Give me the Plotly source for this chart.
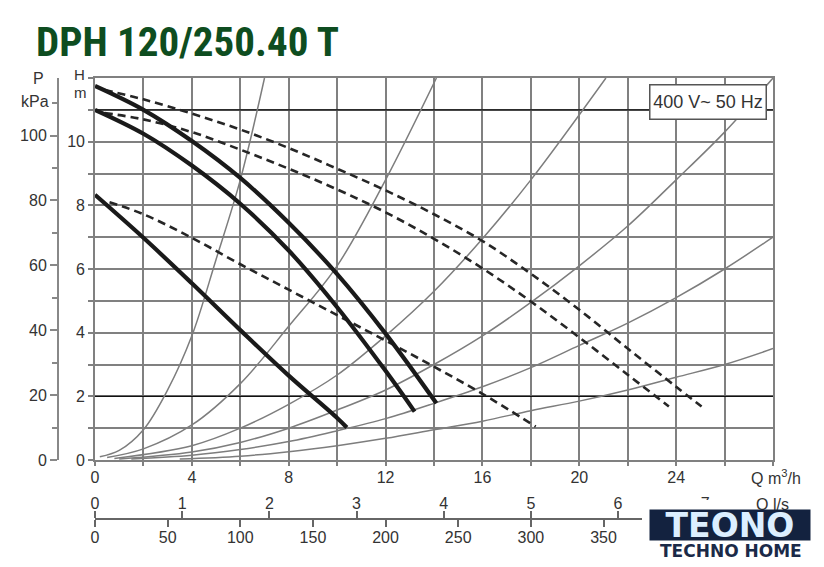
import plotly.graph_objects as go

# ---------------- data ----------------
# pump curves, solid (Q m3/h, H m)
s1_q = [0, 2, 4, 6, 8, 10, 12, 14.1]
s1_h = [11.75, 11.0, 10.02, 8.86, 7.45, 5.84, 3.97, 1.78]
s2_q = [0, 2, 4, 6, 8, 10, 12, 13.2]
s2_h = [11.0, 10.25, 9.25, 8.05, 6.58, 4.8, 2.8, 1.52]
s3_q = [0, 2, 4, 6, 8, 10, 10.4]
s3_h = [8.33, 6.98, 5.55, 4.08, 2.65, 1.32, 1.02]
# pump curves, dashed
d1_q = [0.4, 2, 4, 6, 8, 10, 12, 14, 16, 18, 20, 22, 24, 25.05]
d1_h = [11.62, 11.33, 10.88, 10.38, 9.8, 9.15, 8.47, 7.72, 6.88, 5.85, 4.72, 3.5, 2.3, 1.68]
d2_q = [0.4, 2, 4, 6, 8, 10, 12, 14, 16, 18, 20, 22, 23.7]
d2_h = [10.9, 10.7, 10.3, 9.75, 9.15, 8.5, 7.78, 6.95, 6.02, 4.98, 3.85, 2.68, 1.68]
d3_q = [0.6, 2, 4, 6, 8, 10, 12, 14, 16, 18.2]
d3_h = [8.1, 7.72, 6.98, 6.15, 5.35, 4.55, 3.75, 2.93, 2.08, 1.05]
# system curves (thin grey)
c1_q = [0.2, 1, 2, 3, 4, 5, 6, 7.0]
c1_h = [0.1, 0.3, 0.95, 2.2, 3.9, 6.3, 8.8, 12.0]
c2_q = [0.5, 2, 4, 6, 8, 10, 12, 14.1]
c2_h = [0.08, 0.35, 1.1, 2.4, 4.2, 6.1, 8.8, 12.0]
c3_q = [0.8, 4, 6, 8, 10, 12, 14, 16, 18, 21.1]
c3_h = [0.05, 0.45, 1.0, 1.75, 2.67, 3.9, 5.3, 6.95, 8.8, 12.0]
c4_q = [1, 4, 6, 8, 10, 12, 14, 16, 18, 20, 22, 24, 26, 28]
c4_h = [0.03, 0.25, 0.55, 1.0, 1.57, 2.2, 3.0, 3.9, 4.95, 6.1, 7.35, 8.8, 10.3, 12.0]
c5_q = [1.5, 4, 6, 8, 10, 12, 14, 16, 18, 20, 22, 24, 26, 28]
c5_h = [0.03, 0.15, 0.33, 0.58, 0.92, 1.3, 1.78, 2.3, 2.9, 3.6, 4.3, 5.1, 6.0, 7.0]
c6_q = [3.5, 6, 8, 10, 12, 14, 16, 18, 20, 22, 24, 26, 28]
c6_h = [0.03, 0.12, 0.26, 0.45, 0.68, 0.95, 1.22, 1.55, 1.85, 2.2, 2.6, 3.0, 3.5]

q_ticks = [0, 2, 4, 6, 8, 10, 12, 14, 16, 18, 20, 22, 24, 26, 28]
q_text = ["0", "", "4", "", "8", "", "12", "", "16", "", "20", "", "24", "", ""]
h_ticks = [0, 1, 2, 3, 4, 5, 6, 7, 8, 9, 10, 11, 12]
h_text = ["0", "", "2", "", "4", "", "6", "", "8", "", "10", "", ""]
ls_ticks = [0, 1, 2, 3, 4, 5, 6, 7]
lmin_ticks = [0, 50, 100, 150, 200, 250, 300, 350]

Q_MAX = 28
H_MAX = 12
KPA_PER_M = 9.81
LS_PER_M3H = 1 / 3.6
LMIN_PER_M3H = 1000 / 60

# ---------------- layout geometry ----------------
W, HT = 824, 567
ML, MR, MT, MB = 20, 51, 78, 27
PW = W - ML - MR
PH = HT - MT - MB


def px(x):
    return (x - ML) / PW


def py(y):
    return (HT - MB - y) / PH


GRID = "#808080"
TXT = "#333333"
FONT = "Liberation Sans, Arial, sans-serif"

fig = go.Figure()

for q, h in [(c1_q, c1_h), (c2_q, c2_h), (c3_q, c3_h), (c4_q, c4_h), (c5_q, c5_h), (c6_q, c6_h)]:
    fig.add_trace(go.Scatter(x=q, y=h, mode="lines", line=dict(color="#7d7d7d", width=1.5, shape="spline"),
                             showlegend=False, hoverinfo="skip"))
for q, h in [(d1_q, d1_h), (d2_q, d2_h), (d3_q, d3_h)]:
    fig.add_trace(go.Scatter(x=q, y=h, mode="lines",
                             line=dict(color="#262626", width=2.6, dash="8px,5px", shape="spline"),
                             showlegend=False, hoverinfo="skip"))
for q, h in [(s1_q, s1_h), (s2_q, s2_h), (s3_q, s3_h)]:
    fig.add_trace(go.Scatter(x=q, y=h, mode="lines", line=dict(color="#1a1a1a", width=4.2, shape="spline"),
                             showlegend=False, hoverinfo="skip"))

# invisible traces to activate secondary axes
fig.add_trace(go.Scatter(x=[0], y=[0], xaxis="x2", yaxis="y", mode="markers", marker=dict(opacity=0),
                         showlegend=False, hoverinfo="skip"))
fig.add_trace(go.Scatter(x=[0], y=[0], xaxis="x3", yaxis="y", mode="markers", marker=dict(opacity=0),
                         showlegend=False, hoverinfo="skip"))
fig.add_trace(go.Scatter(x=[0], y=[0], xaxis="x", yaxis="y2", mode="markers", marker=dict(opacity=0),
                         showlegend=False, hoverinfo="skip"))

xdom = [px(95), 1]
ydom = [py(460), 1]

fig.update_layout(
    width=W, height=HT, margin=dict(l=ML, r=MR, t=MT, b=MB, autoexpand=False),
    paper_bgcolor="white", plot_bgcolor="white",
    font=dict(family=FONT, size=16, color=TXT),
    xaxis=dict(domain=xdom, range=[0, Q_MAX], tickmode="array", tickvals=q_ticks, ticktext=q_text,
               ticks="outside", ticklen=4, tickcolor=GRID, tickwidth=1.6, ticklabelstandoff=-2,
               showgrid=True, gridcolor=GRID, gridwidth=1.6, zeroline=False,
               showline=True, linecolor=GRID, linewidth=1.6, mirror=True, anchor="y",
               tickfont=dict(size=16, color=TXT)),
    yaxis=dict(domain=ydom, range=[0, H_MAX], tickmode="array", tickvals=h_ticks, ticktext=h_text,
               ticks="outside", ticklen=5, tickcolor=GRID, tickwidth=1.6,
               showgrid=True, gridcolor=GRID, gridwidth=1.6, zeroline=False,
               showline=True, linecolor=GRID, linewidth=1.6, mirror=True, anchor="x",
               tickfont=dict(size=16, color=TXT)),
    yaxis2=dict(domain=ydom, overlaying="y", anchor="free", position=px(58), side="left",
                range=[0, H_MAX * KPA_PER_M], tick0=0, dtick=20, ticks="outside", ticklen=7,
                tickcolor="#888888", tickwidth=1.6,
                minor=dict(dtick=10, ticks="outside", ticklen=5, tickcolor="#888888", tickwidth=1.6),
                showline=True, linecolor="#888888", linewidth=2, showgrid=False, zeroline=False,
                tickfont=dict(size=16, color=TXT)),
    xaxis2=dict(domain=xdom, overlaying="x", anchor="free", position=py(519), side="top",
                range=[0, Q_MAX * LS_PER_M3H], tickmode="array", tickvals=ls_ticks,
                ticks="outside", ticklen=7, ticklabelstandoff=-4,
                tickcolor="#666666", tickwidth=1.6, showline=True, linecolor="#666666", linewidth=2,
                showgrid=False, zeroline=False, tickfont=dict(size=16, color=TXT)),
    xaxis3=dict(domain=xdom, overlaying="x", anchor="free", position=py(519), side="bottom",
                range=[0, Q_MAX * LMIN_PER_M3H], tickmode="array", tickvals=lmin_ticks,
                ticks="outside", ticklen=7, ticklabelstandoff=-3,
                tickcolor="#666666", tickwidth=1.6, showline=False,
                showgrid=False, zeroline=False, tickfont=dict(size=16, color=TXT)),
)

# darker reference lines
for hv in [11, 2]:
    fig.add_shape(type="line", xref="x", yref="y", x0=0, x1=Q_MAX, y0=hv, y1=hv,
                  line=dict(color="#111111", width=1.3), layer="between")

# white area behind logo (covers the end of the secondary scales)
fig.add_shape(type="rect", xref="paper", yref="paper", x0=px(642), x1=px(822), y0=py(500), y1=py(566),
              fillcolor="white", line=dict(width=0), layer="above")

ann = []


def add_text(text, x, y, size=16, color=TXT, xanchor="center", yanchor="middle", family=FONT, **kw):
    ann.append(dict(text=text, x=px(x), y=py(y), xref="paper", yref="paper", showarrow=False,
                    xanchor=xanchor, yanchor=yanchor, font=dict(size=size, color=color, family=family), **kw))


add_text("<b>DPH 120/250.40 T</b>", 34, 42, size=41, color="#0e4d20", xanchor="left",
         family="Noto Sans ExtraCondensed, Noto Sans Condensed, Roboto Condensed, Liberation Sans Narrow, sans-serif")
add_text("P", 38, 78)
add_text("kPa", 35, 101)
add_text("H", 79, 75, size=15)
add_text("m", 80, 93, size=15)
add_text("Q m<sup>3</sup>/h", 776, 477)
add_text("400 V~ 50 Hz", 708, 102.5, size=18, bgcolor="white", bordercolor="#555555", borderwidth=1.5,
         borderpad=2, width=111, height=29)
add_text("Q l/s", 772, 504)
add_text("<b>TEONO</b>", 729.5, 525, size=33, color="#dcefff", bgcolor="#13223f", width=158, height=28,
         family="DejaVu Sans, sans-serif", borderpad=1)
add_text("<b>TECHNO HOME</b>", 731, 551, size=17, color="#1b2a48", family="DejaVu Sans, sans-serif")

fig.update_layout(annotations=ann)
fig.write_html("out.html", config={"displayModeBar": False},
               post_script="document.body.style.margin='0px';")
